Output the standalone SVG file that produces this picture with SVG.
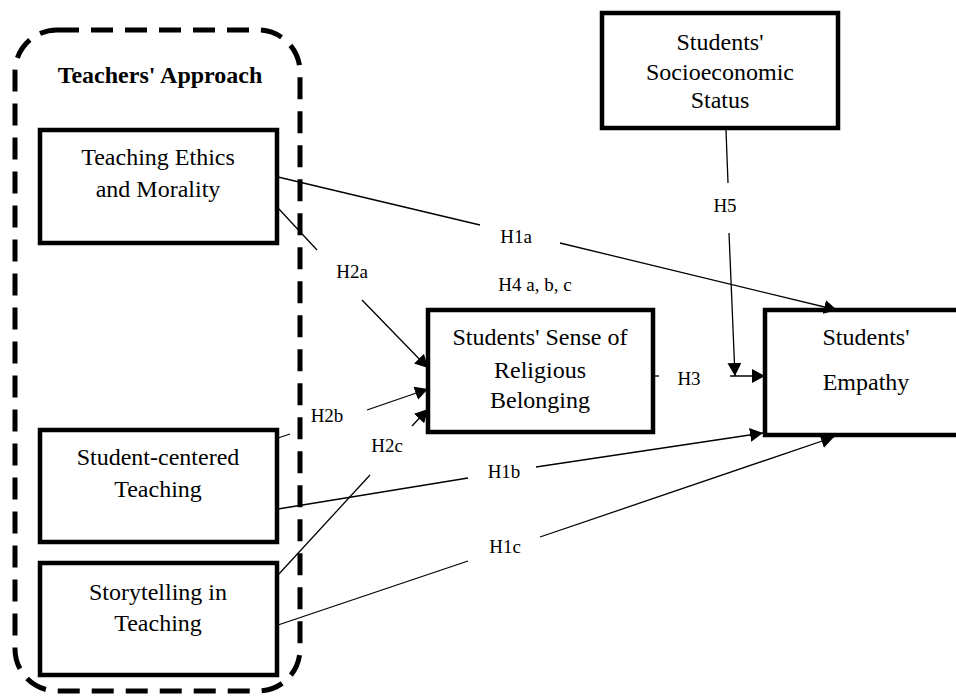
<svg xmlns="http://www.w3.org/2000/svg" width="956" height="696" viewBox="0 0 956 696">
<style>
.node{fill:#fff;stroke:#000;stroke-width:4.5}
.t{font-family:"Liberation Serif","Times New Roman",serif;font-size:24px;fill:#000;text-anchor:middle}
.lbl{font-family:"Liberation Serif","Times New Roman",serif;font-size:19px;fill:#000;text-anchor:middle}
.c{stroke:#000;stroke-width:1.3;fill:none}
.a{marker-end:url(#ah)}
</style>
<defs>
<marker id="ah" markerUnits="userSpaceOnUse" markerWidth="14" markerHeight="14" refX="13" refY="7" orient="auto">
<path d="M0,0 L13,7 L0,14 z" fill="#000"/>
</marker>
</defs>
<rect width="956" height="696" fill="#fff"/>
<g id="teachers-approach">
<rect x="15" y="30" width="285" height="661" rx="42" ry="42" fill="none" stroke="#000" stroke-width="5" stroke-dasharray="22 12"/>
<text class="t" x="160" y="83" font-weight="bold" font-size="23">Teachers' Approach</text>
</g>
<g id="ethics">
<rect class="node" x="40" y="130" width="237" height="113"/>
<text class="t" x="158" y="165">Teaching Ethics</text>
<text class="t" x="158" y="197">and Morality</text>
</g>
<g id="student-centered">
<rect class="node" x="40" y="430" width="237" height="112"/>
<text class="t" x="158" y="465">Student-centered</text>
<text class="t" x="158" y="497">Teaching</text>
</g>
<g id="storytelling">
<rect class="node" x="40" y="563" width="237" height="112"/>
<text class="t" x="158" y="600">Storytelling in</text>
<text class="t" x="158" y="631">Teaching</text>
</g>
<g id="ses">
<rect class="node" x="602" y="13" width="236" height="115"/>
<text class="t" x="720" y="50">Students'</text>
<text class="t" x="720" y="80">Socioeconomic</text>
<text class="t" x="720" y="108">Status</text>
</g>
<g id="belonging">
<rect class="node" x="428" y="310" width="225" height="122"/>
<text class="t" x="540" y="345">Students' Sense of</text>
<text class="t" x="540" y="378">Religious</text>
<text class="t" x="540" y="408">Belonging</text>
</g>
<g id="empathy">
<rect class="node" x="765" y="310" width="220" height="125"/>
<text class="t" x="866" y="345">Students'</text>
<text class="t" x="866" y="390">Empathy</text>
</g>
<g id="connectors">
<line class="c" x1="278" y1="177" x2="480" y2="225"/>
<line class="c a" x1="560" y1="243" x2="837" y2="310"/>
<line class="c" x1="278" y1="208" x2="317" y2="250"/>
<line class="c a" x1="362" y1="300" x2="428" y2="368"/>
<line class="c" x1="278" y1="438" x2="290" y2="434"/>
<line class="c a" x1="367" y1="410" x2="428" y2="389"/>
<line class="c" x1="278" y1="575" x2="370" y2="475"/>
<line class="c a" x1="412" y1="426" x2="428" y2="409"/>
<line class="c" x1="278" y1="509" x2="468" y2="478"/>
<line class="c a" x1="536" y1="467" x2="763" y2="433"/>
<line class="c" x1="278" y1="625" x2="468" y2="561"/>
<line class="c a" x1="540" y1="537" x2="834" y2="437"/>
<line class="c" x1="654" y1="376" x2="659" y2="376"/>
<line class="c a" x1="730" y1="376" x2="765" y2="376"/>
<line class="c" x1="726" y1="130" x2="728" y2="183"/>
<line class="c a" x1="729" y1="233" x2="735" y2="376"/>
</g>
<g id="labels">
<text class="lbl" x="516" y="243">H1a</text>
<text class="lbl" x="352" y="278">H2a</text>
<text class="lbl" x="535" y="291">H4 a, b, c</text>
<text class="lbl" x="327" y="422">H2b</text>
<text class="lbl" x="387" y="452">H2c</text>
<text class="lbl" x="504" y="478">H1b</text>
<text class="lbl" x="505" y="553">H1c</text>
<text class="lbl" x="689" y="385">H3</text>
<text class="lbl" x="725" y="212">H5</text>
</g>
</svg>
